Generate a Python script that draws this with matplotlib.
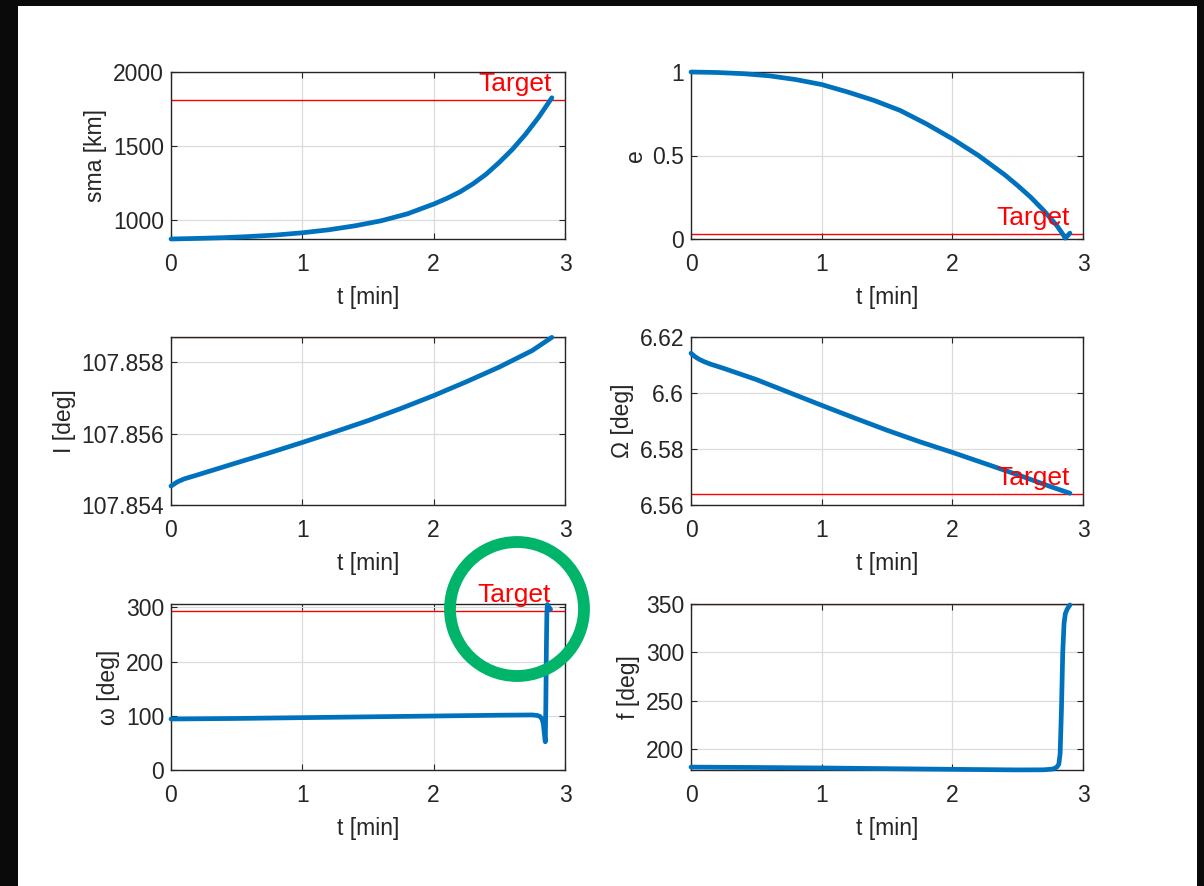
import matplotlib
matplotlib.use('Agg')
import matplotlib.pyplot as plt
from matplotlib.patches import Rectangle, Ellipse

plt.rcParams['font.family'] = ['Liberation Sans', 'DejaVu Sans']

# ---------------- data ----------------
t_sma = [0, 0.2, 0.4, 0.6, 0.8, 1.0, 1.2, 1.4, 1.6, 1.8, 2.0, 2.1, 2.2, 2.3, 2.4,
         2.5, 2.6, 2.7, 2.8, 2.9]
sma = [872, 876, 881, 889, 899, 914, 934, 961, 995, 1042, 1108, 1146, 1190, 1245,
       1310, 1390, 1478, 1580, 1695, 1826]
sma_target = 1812

t_e = [0, 0.2, 0.4, 0.6, 0.8, 1.0, 1.2, 1.4, 1.6, 1.8, 2.0, 2.2, 2.4, 2.5, 2.6,
       2.7, 2.8, 2.84, 2.865, 2.9]
ecc = [1.0, 0.997, 0.99, 0.977, 0.955, 0.925, 0.88, 0.83, 0.77, 0.69, 0.60, 0.50,
       0.385, 0.32, 0.25, 0.17, 0.08, 0.035, 0.005, 0.035]
e_target = 0.028

t_inc = [0, 0.05, 0.1, 0.2, 0.35, 0.5, 0.75, 1.0, 1.25, 1.5, 1.75, 2.0, 2.25,
         2.5, 2.75, 2.9]
inc = [107.85453, 107.85465, 107.85473, 107.85484, 107.85501, 107.85518, 107.85546,
       107.85575, 107.85605, 107.85636, 107.85670, 107.85706, 107.85745,
       107.85786, 107.85832, 107.85869]
inc_target = 107.8587

t_raan = [0, 0.03, 0.06, 0.1, 0.15, 0.25, 0.5, 0.75, 1.0, 1.25, 1.5, 1.75, 2.0,
          2.25, 2.5, 2.75, 2.9]
raan = [6.6142, 6.6130, 6.6121, 6.6112, 6.6103, 6.6088, 6.6048, 6.6002, 6.5956,
        6.5911, 6.5867, 6.5826, 6.5788, 6.5748, 6.5708, 6.5666, 6.5642]
raan_target = 6.5639

t_argp = [0, 0.5, 1.0, 1.5, 2.0, 2.5, 2.75, 2.79, 2.81, 2.825, 2.835, 2.845, 2.85,
          2.854, 2.858, 2.862, 2.866, 2.875, 2.89]
argp = [94, 95, 96.5, 98, 99.5, 101, 101.5, 100.5, 98.5, 94, 85, 62, 52,
        120, 220, 290, 305, 301, 296]
argp_target = 293

t_f = [0, 0.5, 1.0, 1.5, 2.0, 2.5, 2.7, 2.77, 2.8, 2.815, 2.825, 2.835, 2.845,
       2.855, 2.865, 2.88, 2.9]
f_anom = [181, 180.6, 180.1, 179.4, 178.7, 178.1, 178.2, 179, 181, 184, 195, 240,
          300, 330, 340, 345, 349]
f_target = 350

x_ticks = [0, 1, 2, 3]

# ---------------- figure ----------------
W, H = 1204, 886
fig = plt.figure(figsize=(W / 100, H / 100), dpi=100, facecolor='#0a0a0a')
fig.add_artist(Rectangle((18 / W, 0), (1197 - 18) / W, (H - 6) / H,
                         transform=fig.transFigure, facecolor='white',
                         edgecolor='none', zorder=0))

BLUE = '#0072BD'
DARK = '#262626'
FS = 16.5

def make_ax(x0, x1, y_top, y_bot):
    return fig.add_axes([x0 / W, 1 - y_bot / H, (x1 - x0) / W, (y_bot - y_top) / H])

cols = [(171, 565), (691, 1083)]
rows = [(72, 239), (337, 505), (604, 770)]

panels = [
    dict(t=t_sma, y=sma, tgt=sma_target, ylim=(872, 2000), yt=[1000, 1500, 2000],
         yl=['1000', '1500', '2000'], lab='sma [km]', txt=True),
    dict(t=t_e, y=ecc, tgt=e_target, ylim=(0, 1), yt=[0, 0.5, 1],
         yl=['0', '0.5', '1'], lab='e', txt=True),
    dict(t=t_inc, y=inc, tgt=inc_target, ylim=(107.854, 107.8587),
         yt=[107.854, 107.856, 107.858], yl=['107.854', '107.856', '107.858'],
         lab='I [deg]', txt=False),
    dict(t=t_raan, y=raan, tgt=raan_target, ylim=(6.56, 6.62),
         yt=[6.56, 6.58, 6.60, 6.62], yl=['6.56', '6.58', '6.6', '6.62'],
         lab='Ω [deg]', txt=True),
    dict(t=t_argp, y=argp, tgt=argp_target, ylim=(0, 306), yt=[0, 100, 200, 300],
         yl=['0', '100', '200', '300'], lab='ω [deg]', txt=True),
    dict(t=t_f, y=f_anom, tgt=f_target, ylim=(178, 350), yt=[200, 250, 300, 350],
         yl=['200', '250', '300', '350'], lab='f [deg]', txt=False),
]

for i, p in enumerate(panels):
    r, c = divmod(i, 2)
    ax = make_ax(cols[c][0], cols[c][1], rows[r][0], rows[r][1])
    ax.set_facecolor('white')
    ax.plot(p['t'], p['y'], color=BLUE, lw=3.4, solid_capstyle='round',
            solid_joinstyle='round', zorder=3, clip_on=False)
    ax.axhline(p['tgt'], color='red', lw=1.0, zorder=2)
    if p['txt']:
        ax.annotate('Target', xy=(p['t'][-1], p['tgt']), xytext=(0, 3),
                    textcoords='offset points', ha='right', va='bottom',
                    color='red', fontsize=19, zorder=4)
    ax.set_xlim(0, 3)
    ax.set_xticks(x_ticks)
    ax.set_xticklabels([str(v) for v in x_ticks])
    ax.set_ylim(*p['ylim'])
    ax.set_yticks(p['yt'])
    ax.set_yticklabels(p['yl'])
    ax.grid(True, color='#dcdcdc', lw=0.9)
    ax.set_axisbelow(True)
    ax.tick_params(direction='in', top=True, right=True, length=4, width=0.8,
                   colors=DARK, labelsize=FS)
    ax.tick_params(axis='x', pad=10)
    ax.tick_params(axis='y', pad=5)
    for s in ax.spines.values():
        s.set_color(DARK)
        s.set_linewidth(1.0)
    ax.set_xlabel('t [min]', fontsize=FS, color=DARK, labelpad=7)
    ax.set_ylabel(p['lab'], fontsize=FS, color=DARK, labelpad=4)

# green highlight circle
cx, cy, rad = 517, 609, 67
fig.add_artist(Ellipse((cx / W, 1 - cy / H), 2 * rad / W, 2 * rad / H,
                       transform=fig.transFigure, facecolor='none',
                       edgecolor='#00B46A', lw=8.5, zorder=10))

fig.savefig('out.png', dpi=100, facecolor=fig.get_facecolor())
